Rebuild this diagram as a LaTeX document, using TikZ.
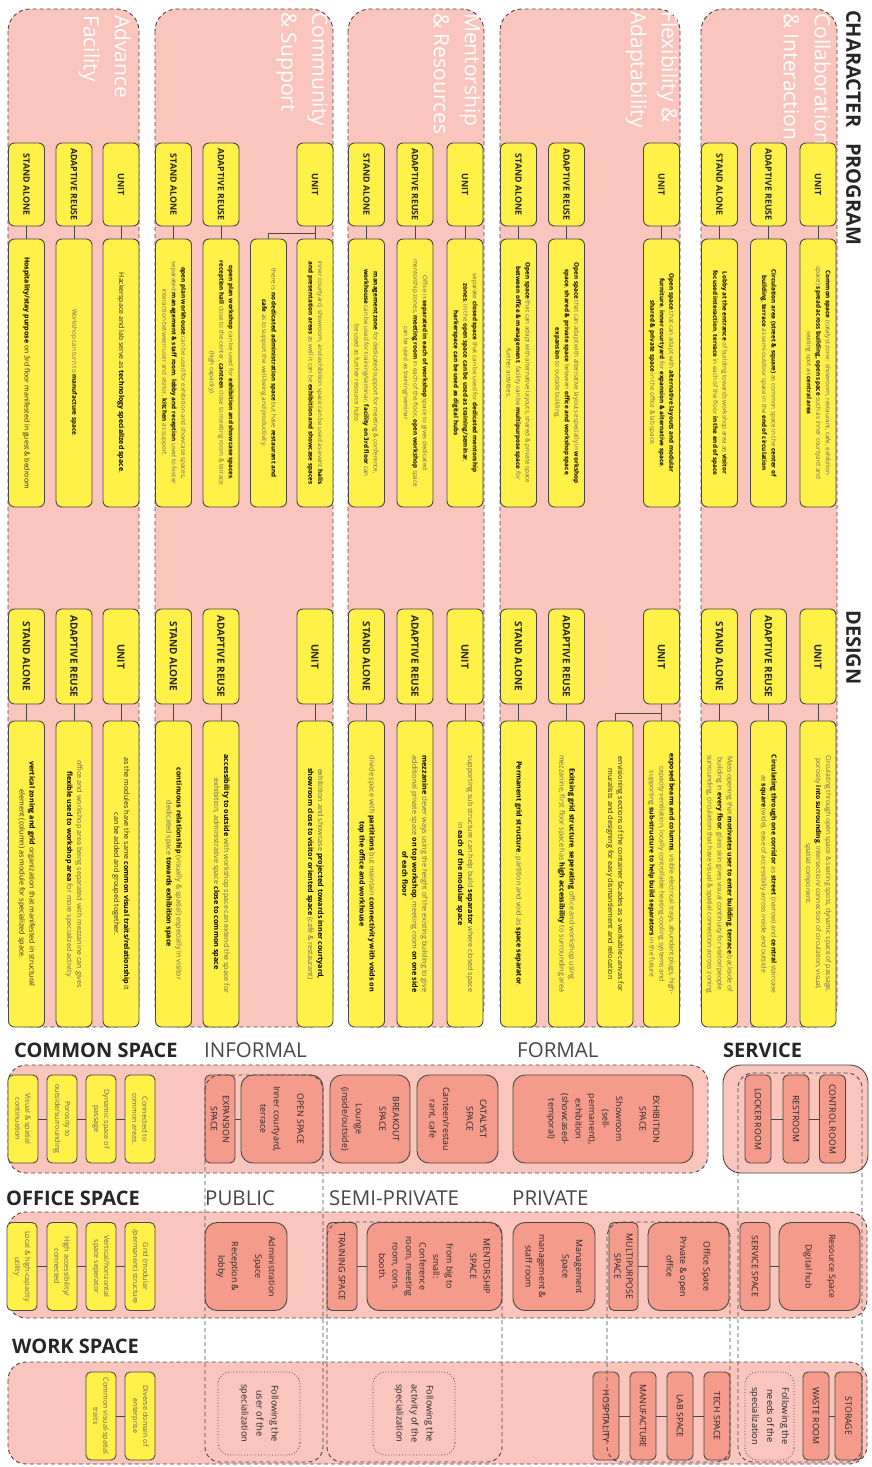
\documentclass[tikz,border=0pt]{standalone}
\usepackage{fontspec}
\setmainfont{Open Sans}
\usepackage{tikz}

\definecolor{bgpink}{RGB}{249,197,188}
\definecolor{salmon}{RGB}{244,155,140}
\definecolor{boxyellow}{RGB}{255,241,72}
\definecolor{edgegray}{RGB}{72,72,72}
\definecolor{softgray}{RGB}{100,100,100}
\definecolor{inkgray}{RGB}{38,38,38}

\newcommand{\kw}[1]{\textbf{\color{black}#1}}
% character / x / row / label
\newcommand{\rowlist}{ad/26.5/sa/STAND ALONE, ad/74/ar/ADAPTIVE REUSE, ad/121/u/UNIT,
  cm/173.5/sa/STAND ALONE, cm/221/ar/ADAPTIVE REUSE, cm/315/u/UNIT,
  me/366.5/sa/STAND ALONE, me/415/ar/ADAPTIVE REUSE, me/465/u/UNIT,
  fl/518.5/sa/STAND ALONE, fl/566.5/ar/ADAPTIVE REUSE, fl/661.5/u/UNIT,
  co/719.5/sa/STAND ALONE, co/768.5/ar/ADAPTIVE REUSE, co/818/u/UNIT}

\tikzset{
  vtext/.style={rotate=-90},
  colbox/.style={draw=edgegray, dash pattern=on 4pt off 3pt, fill=bgpink, rounded corners=22, line width=0.9pt},
  zone/.style={draw=edgegray, dash pattern=on 4pt off 3pt, fill=bgpink, rounded corners=18, line width=0.9pt},
  grp/.style={draw=edgegray, dash pattern=on 4pt off 3pt, rounded corners=15, line width=0.9pt},
  coltitle/.style={vtext, anchor=north west, inner sep=0, align=left, text=white, font=\fontsize{21}{31}\selectfont},
  mainhead/.style={vtext, anchor=north west, inner sep=0, text=inkgray, font=\bfseries\fontsize{20}{24}\selectfont},
  sechead/.style={anchor=base west, inner sep=0, text=inkgray, font=\bfseries\fontsize{20}{24}\selectfont},
  subhead/.style={anchor=base west, inner sep=0, text=inkgray!85, font=\fontsize{20.5}{24}\selectfont},
  ybox/.style={vtext, draw=edgegray, fill=boxyellow, line width=0.9pt, rounded corners=6, inner sep=1pt},
  plbl/.style={ybox, minimum width=83, minimum height=36, text=inkgray, font=\bfseries\fontsize{8.8}{10}\selectfont},
  dlbl/.style={plbl, minimum width=95, font=\bfseries\fontsize{10}{11}\selectfont},
  ptxt/.style={ybox, minimum width=268, minimum height=36, align=center, text=softgray, font=\fontsize{6.3}{9.5}\selectfont},
  dtxt/.style={ptxt, minimum width=306, font=\fontsize{7.2}{10}\selectfont},
  dlong/.style={dtxt, font=\fontsize{6.8}{10}\selectfont},
  sbox/.style={ybox, rounded corners=5, minimum width=88, minimum height=30, align=center, text=softgray, font=\fontsize{7.2}{10}\selectfont},
  rbox/.style={vtext, draw=edgegray, fill=salmon, line width=0.9pt, rounded corners=12, minimum width=88, inner sep=1pt, align=center, text=inkgray, font=\fontsize{8.8}{13.5}\selectfont},
  nbox/.style={rbox, rounded corners=5, font=\fontsize{8.8}{12}\selectfont},
  dbox/.style={vtext, draw=edgegray, dotted, line width=0.8pt, rounded corners=12, minimum width=83, align=center, text=inkgray, font=\fontsize{9.2}{15}\selectfont},
  conn/.style={draw=edgegray, line width=0.9pt}
}

\begin{document}
\begin{tikzpicture}[x=1pt, y=-1pt]
\useasboundingbox (0,0) rectangle (872,1467);

% character columns
\draw[colbox] (8,9) rectangle (139,1027);
\draw[colbox] (155,9) rectangle (333,1027);
\draw[colbox] (348,9) rectangle (484,1027);
\draw[colbox] (500,9) rectangle (680,1027);
\draw[colbox] (701,9) rectangle (837,1027);

\node[coltitle] (co-cap) at (831,13) {Collaboration\\\& Interaction};
\node[coltitle] (fl-cap) at (678,11) {Flexibility \&\\Adaptability};
\node[coltitle] (me-cap) at (481,13) {Mentorship\\\& Resources};
\node[coltitle] (cm-cap) at (328,12) {Community\\\& Support};
\node[coltitle] (ad-cap) at (131,15) {Advance\\Facility};

\node[mainhead] (character) at (861,10) {CHARACTER};
\node[mainhead] (program) at (861,143) {PROGRAM};
\node[mainhead] (design) at (861,610) {DESIGN};

% unit / adaptive reuse / stand alone labels
\foreach \cn/\xx/\rw/\lab in \rowlist {
  \node[plbl] (\cn-\rw-pl) at (\xx,184.5) {\lab};
  \node[dlbl] (\cn-\rw-dl) at (\xx,656.5) {\lab};
}

% program texts
\node[ptxt] (co-u-pt) at (818,373) {\kw{Common space} (catalyst zone: showroom, restaurant, cafe, exhibiton\\space) \kw{spread across building, open space} such as inner courtyard and\\seating spot as \kw{central area}};
\node[ptxt] (co-ar-pt) at (768.5,373) {\kw{Circulation area (street \& square)} as common space in the \kw{center of}\\\kw{building}, \kw{terrace} as semi-outdoor space in the \kw{end of circulation}};
\node[ptxt] (co-sa-pt) at (719.5,373) {\kw{Lobby at the entrance} of building towards workshop area as \kw{visitor}\\\kw{focused interaction}, \kw{terrace} in each of the floor \kw{in the end of space}};
\node[ptxt] (fl-u-pt) at (661.5,373) {\kw{Open space} that can adapt with \kw{alternative layouts and modular}\\\kw{furniture}, \kw{inner courtyard} for \kw{expansion \& alternative space},\\\kw{shared \& private space} in the office \& lab space.};
\node[ptxt] (fl-ar-pt) at (566.5,373) {\kw{Open space} that can adapt with alternative layouts especially in \kw{workshop}\\\kw{space}, \kw{shared \& private space} between \kw{office and workshop space},\\\kw{expansion} to outside building.};
\node[ptxt] (fl-sa-pt) at (518.5,373) {\kw{Open space} that can adapt with alternative layouts, shared \& private space\\\kw{between office \& management}, facility can be \kw{multipurpose space} for\\further activities.};
\node[ptxt] (me-u-pt) at (465,373) {separate \kw{closed space} that can be used for \kw{dedicated mentorship}\\\kw{zones}, in the \kw{open space can be used as training/seminar},\\\kw{harkerspace can be used as digital hubs}};
\node[ptxt] (me-ar-pt) at (415,373) {Office is \kw{separated in each of workshop} space to gives dedicated\\mentorship zones, \kw{meeting room} in each of the floor, \kw{open workshop} space\\can be used as training/seminar};
\node[ptxt] (me-sa-pt) at (366.5,373) {\kw{management zone} for dedicated support for meeting \& conference,\\\kw{workhouse} can be used for training/seminar, \kw{facility on 3rd floor} can\\be used as further resource hubs};
\node[ptxt] (cm-u-pt) at (315,373) {inner courtyard, showroom, and exhibition space can be used as event \kw{halls}\\\kw{and presentation areas} as well it can be \kw{exhibition and showcase spaces}};
\node[ptxt] (cm-x-pt) at (268.5,373) {there is \kw{no dedicated administration space} but have \kw{restaurant and}\\\kw{cafe} as to support the well-being and productivity.};
\node[ptxt] (cm-ar-pt) at (221,373) {\kw{open plan workshop} can be used for \kw{exhibition and showcase spaces},\\\kw{reception hall} close to the center, \kw{canteen} close to meeting room \& terrace\\(high capacity).};
\node[ptxt] (cm-sa-pt) at (173.5,373) {\kw{open plan workhouse} can be used for exhibition and showcase spaces,\\separated \kw{management \& staff room}, \kw{lobby and reception} used to foster\\interaction between user and visitor, \kw{kitchen} as support.};
\node[ptxt, text=inkgray, font=\fontsize{7}{10}\selectfont] (ad-u-pt) at (121,373) {Hackerspace and lab serve as \kw{technology specialized space}.};
\node[ptxt] (ad-ar-pt) at (74,373) {Workshop can turn to \kw{manufacture space}.};
\node[ptxt, text=inkgray, font=\fontsize{7}{10}\selectfont] (ad-sa-pt) at (26.5,373) {\kw{Hospitality/stay purpose} on 3rd floor manifested in guest \& bedroom};

% design texts
\node[dlong] (co-u-dt) at (818,874) {Circulating through open space \& seating spots, dynamic space of passage,\\porosity \kw{into surrounding}, intersection/ connection of circulation, visual,\\spatial component.};
\node[dlong] (co-ar-dt) at (768.5,874) {\kw{Circulating through one corridor} as \kw{street} (narrow) and \kw{central} staircase\\as \kw{square} (wide), ease of accessibiliy across inside and outside};
\node[dlong] (co-sa-dt) at (719.5,874) {Mass opening that \kw{motivates user to enter building}, \kw{terrace} backside of\\building in \kw{every floor}, glass skin gives visual continuity for visitor/people\\surrounding, circulation that have visual \& spatial connection across zoning};
\node[dlong] (fl-u-dt) at (661.5,874) {\kw{exposed beams and columns}, visible electrical trays, abundant plugs, high-\\capacity ventilation, locally controllable heating-cooling systems and\\supporting \kw{sub-structure to help build separators} in the future};
\node[dtxt, text=inkgray] (fl-x-dt) at (615,874) {envisioning sections of the container facades as a workable canvas for\\muralists and designing for easy dismantlement and relocation};
\node[dtxt] (fl-ar-dt) at (566.5,874) {\kw{Exitsing grid structure}, \kw{seperating} office and workshop using\\mezzanine, first floor space has \kw{high accessibility} to surrounding area};
\node[dtxt] (fl-sa-dt) at (518.5,874) {\kw{Permanent grid structure}, partition and void as \kw{space separator}.};
\node[dtxt] (me-u-dt) at (465,874) {supporting sub structure can help build \kw{separator} where closed space\\in \kw{each of the modular space}};
\node[dtxt] (me-ar-dt) at (415,874) {\kw{mezzanine} clever ways using the height of the existing building to give\\additional private space \kw{on top workshop}, meeting room \kw{on one side}\\\kw{of each floor}};
\node[dtxt] (me-sa-dt) at (366.5,874) {divide space with \kw{partitions} but maintain \kw{connectivity with voids on}\\\kw{top the office and workhouse}};
\node[dtxt] (cm-u-dt) at (315,874) {exhibition and showcase \kw{projected towards inner courtyard,}\\\kw{showroom close to visitor oriented space} (café \& restaurant)};
\node[dtxt] (cm-ar-dt) at (221,874) {\kw{accessibility to outside} with workshop space can extend the space for\\exhibition, administrative space \kw{close to common space}};
\node[dtxt] (cm-sa-dt) at (173.5,874) {\kw{continuous relationship} (visually \& spatial) especially in visitor\\dedicated space \kw{towards exhibition space}};
\node[dtxt, text=inkgray] (ad-u-dt) at (121,874) {as the modules have the same \kw{common visual traits/relationship} it\\can be added and grouped together.};
\node[dtxt] (ad-ar-dt) at (74,874) {office and workshop area being separated with mezzanine can gives\\\kw{flexible used to workshop area} for more specialized activity};
\node[dtxt, text=inkgray] (ad-sa-dt) at (26.5,874) {\kw{vertical zoning and grid} organization that manifested in structural\\element (column) as module for specialized space.};

\foreach \cn/\xx/\rw/\lab in \rowlist {
  \draw[conn] (\cn-\rw-pl) -- (\cn-\rw-pt);
  \draw[conn] (\cn-\rw-dl) -- (\cn-\rw-dt);
}
\draw[conn] (cm-u-pl.east) ++(0,6.5) -| (cm-x-pt.west);
\draw[conn] (fl-u-dl.east) ++(0,8.5) -| (fl-x-dt.west);

% space zones
\draw[zone] (8,1065) rectangle (708,1173);
\draw[zone, solid] (723,1065) rectangle (868,1173);
\draw[zone] (8,1212) rectangle (867,1318);
\draw[zone] (8,1362) rectangle (867,1464);

\node[sechead] (common) at (14,1057) {COMMON SPACE};
\node[subhead] (informal) at (204,1057) {INFORMAL};
\node[subhead] (formal) at (517,1057) {FORMAL};
\node[sechead] (service) at (723,1057) {SERVICE};
\node[sechead] (officehd) at (6,1205) {OFFICE SPACE};
\node[subhead] (public) at (205,1205) {PUBLIC};
\node[subhead] (semipriv) at (329,1205) {SEMI-PRIVATE};
\node[subhead] (private) at (512,1205) {PRIVATE};
\node[sechead] (workhd) at (12,1353) {WORK SPACE};

% common space
\node[sbox] (cs1) at (23,1119) {Visual \& spatial\\continuation};
\node[sbox] (cs2) at (62,1119) {Porosity to\\outside/surrounding};
\node[sbox] (cs3) at (101,1119) {Dynamic space of\\passage};
\node[sbox] (cs4) at (140,1119) {Connected to\\common areas.};
\node[nbox, minimum height=30] (expansion) at (220,1119) {EXPANSION\\SPACE};
\node[rbox, minimum height=82] (openspace) at (282,1119) {OPEN SPACE\\[10pt]Inner courtyard,\\terrace};
\node[rbox, minimum height=80] (breakout) at (370,1119) {BREAKOUT\\SPACE\\[10pt]Lounge\\(inside/outside)};
\node[rbox, minimum height=81] (catalyst) at (457.5,1119) {CATALYST\\SPACE\\[10pt]Canteen/restau\\rant, cafe};
\node[rbox, minimum height=180] (exhibition) at (603,1119) {EXHIBITION\\SPACE\\[10pt]Showroom\\(sell-\\permanent),\\exhibition\\(showcased-\\temporal)};

% service
\node[nbox, minimum height=26] (locker) at (758,1119) {LOCKER ROOM};
\node[nbox, minimum height=26] (restroom) at (796,1119) {RESTROOM};
\node[nbox, minimum height=26] (control) at (832.5,1119) {CONTROL ROOM};

% office space
\node[sbox] (os1) at (22,1266.5) {Local \& high-capacity\\utility};
\node[sbox] (os2) at (62,1266.5) {High accessibility/\\connected};
\node[sbox] (os3) at (101,1266.5) {Vertical/horizontal\\space seperator};
\node[sbox] (os4) at (140,1266.5) {Grid (modular\\/permanent) structure};
\node[rbox, minimum height=82] (admin) at (246,1266.5) {Administration\\Space\\[10pt]Reception \&\\lobby};
\node[nbox, minimum height=30] (training) at (342,1266.5) {TRAINING SPACE};
\node[rbox, minimum height=135] (mentor) at (434.5,1266.5) {MENTORSHIP\\SPACE\\[10pt]from big to\\small:\\Conference\\room, meeting\\room, cons.\\booth.};
\node[rbox, minimum height=82] (manage) at (554,1266.5) {Management\\Space\\[10pt]management \&\\staff room};
\node[nbox, minimum height=29] (multi) at (623.5,1266.5) {MULTIPURPOSE\\SPACE};
\node[rbox, minimum height=81] (officesp) at (688.5,1266.5) {Office Space\\[10pt]Private \& open\\office};
\node[nbox, minimum height=30] (servsp) at (755,1266.5) {SERVICE SPACE};
\node[rbox, minimum height=81] (resource) at (819.5,1266.5) {Resource Space\\[10pt]Digital hub};

% work space
\node[sbox] (ws1) at (101,1416) {Common visual-spatial\\traits};
\node[sbox] (ws2) at (140,1416) {Diverse domain of\\enterprise};
\node[dbox, minimum height=82] (follow1) at (259,1413.5) {Following the\\user of the\\specialization};
\node[dbox, minimum height=82] (follow2) at (414,1413.5) {Following the\\activity of the\\specialization};
\node[nbox, minimum height=26] (hosp) at (606,1416) {HOSPITALITY};
\node[nbox, minimum height=26] (manuf) at (643,1416) {MANUFACTURE};
\node[nbox, minimum height=26] (lab) at (680,1416) {LAB SPACE};
\node[nbox, minimum height=26] (tech) at (717,1416) {TECH SPACE};
\node[dbox, minimum width=88, minimum height=49] (follow3) at (769.5,1416) {Following the\\needs of the\\specialization};
\node[nbox, minimum height=26] (waste) at (816,1416) {WASTE ROOM};
\node[nbox, minimum height=27] (storage) at (848.5,1416) {STORAGE};

\foreach \a/\b in {cs1/cs2, cs2/cs3, cs3/cs4, expansion/openspace, locker/restroom, restroom/control,
    os1/os2, os2/os3, os3/os4, training/mentor, multi/officesp, servsp/resource,
    ws1/ws2, hosp/manuf, manuf/lab, lab/tech, waste/storage}
  \draw[conn] (\a) -- (\b);

% groups across the zones
\draw[grp] (205,1075) rectangle (323,1462);
\draw[grp] (327,1222) rectangle (502,1462);
\draw[grp] (607,1222) rectangle (730,1462);
\draw[grp] (738,1073) rectangle (862,1462);
\end{tikzpicture}
\end{document}
